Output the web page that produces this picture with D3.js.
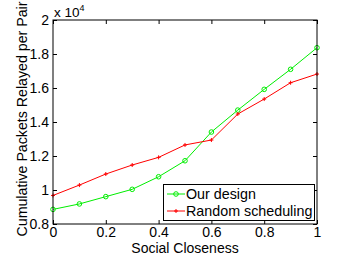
<!DOCTYPE html>
<html><head><meta charset="utf-8">
<script src="https://cdn.jsdelivr.net/npm/d3@7"></script>
<style>body{margin:0;background:#fff}svg{display:block}text{font-family:"Liberation Sans",Arial,sans-serif;fill:#000}</style>
</head><body>
<script>
const closeness = [0,0.1,0.2,0.3,0.4,0.5,0.6,0.7,0.8,0.9,1.0];
const ourDesign = [8860,9180,9610,10040,10780,11720,13410,14700,15920,17100,18370];
const randomSched = [9680,10290,10940,11470,11920,12650,12940,14470,15350,16310,16820];
const xTicks = [0,0.2,0.4,0.6,0.8,1];
const yTicks = [8000,10000,12000,14000,16000,18000,20000];
const yTickLabels = ["0.8","1","1.2","1.4","1.6","1.8","2"];
const seriesNames = ["Our design","Random scheduling"];

const W=341,H=258;
const L=53,R=317,T=20,B=224;
const svg=d3.select("body").append("svg").attr("width",W).attr("height",H);
const x=d3.scaleLinear().domain([0,1]).range([L,R]);
const y=d3.scaleLinear().domain([8000,20000]).range([B,T]);

const tl=4;
svg.append("g").attr("transform",`translate(0,${B})`)
  .call(d3.axisBottom(x).tickValues(xTicks).tickSize(-tl).tickPadding(3).tickFormat(d=>d3.format("")(d)))
  .call(g=>{g.select(".domain").remove();g.selectAll("text").attr("font-size",14).attr("dy","0.71em");});
svg.append("g").attr("transform",`translate(0,${T})`)
  .call(d3.axisTop(x).tickValues(xTicks).tickSize(-tl).tickFormat(""))
  .call(g=>g.select(".domain").remove());
svg.append("g").attr("transform",`translate(${L},0)`)
  .call(d3.axisLeft(y).tickValues(yTicks).tickSize(-tl).tickPadding(4).tickFormat((d,i)=>yTickLabels[i]))
  .call(g=>{g.select(".domain").remove();g.selectAll("text").attr("font-size",14);});
svg.append("g").attr("transform",`translate(${R},0)`)
  .call(d3.axisRight(y).tickValues(yTicks).tickSize(-tl).tickFormat(""))
  .call(g=>g.select(".domain").remove());
svg.selectAll(".tick line").attr("stroke","#000");

const line=d3.line().x((d,i)=>x(closeness[i])).y(d=>y(d));
svg.append("path").datum(ourDesign).attr("d",line).attr("fill","none").attr("stroke","#00ee00").attr("stroke-width",1);
svg.append("path").datum(randomSched).attr("d",line).attr("fill","none").attr("stroke","#ff0000").attr("stroke-width",1);
svg.selectAll(".gm").data(ourDesign).enter().append("circle")
  .attr("cx",(d,i)=>x(closeness[i])).attr("cy",d=>y(d)).attr("r",2.3)
  .attr("fill","none").attr("stroke","#00ee00").attr("stroke-width",1);
svg.selectAll(".rm").data(randomSched).enter().append("path")
  .attr("d",(d,i)=>{const cx=x(closeness[i]),cy=y(d);return `M${cx-2},${cy}H${cx+2}M${cx},${cy-2}V${cy+2}`;})
  .attr("stroke","#ff0000").attr("stroke-width",1);

svg.append("rect").attr("x",L).attr("y",T).attr("width",R-L).attr("height",B-T)
  .attr("fill","none").attr("stroke","#000").attr("stroke-width",1);

const ex=svg.append("text").attr("x",L+1).attr("y",T-3).attr("font-size",13.5);
ex.append("tspan").text("x 10");
ex.append("tspan").attr("font-size",9).attr("dy",-6).text("4");

svg.append("text").attr("x",(L+R)/2).attr("y",253).attr("text-anchor","middle").attr("font-size",14).text("Social Closeness");
svg.append("text").attr("transform",`translate(27,119) rotate(-90)`).attr("text-anchor","middle").attr("font-size",14.2).text("Cumulative Packets Relayed per Pair");

const lg=svg.append("g");
lg.append("rect").attr("x",163.5).attr("y",184.5).attr("width",151).attr("height",36).attr("fill","#fff").attr("stroke","#000").attr("stroke-width",1);
const colors=["#00ee00","#ff0000"];
seriesNames.forEach((n,i)=>{
  const yy=194+i*17;
  lg.append("line").attr("x1",167).attr("x2",185).attr("y1",yy).attr("y2",yy).attr("stroke",colors[i]);
  if(i===0) lg.append("circle").attr("cx",176).attr("cy",yy).attr("r",2.3).attr("fill","none").attr("stroke",colors[i]);
  else lg.append("path").attr("d",`M174,${yy}H178M176,${yy-2}V${yy+2}`).attr("stroke",colors[i]);
  lg.append("text").attr("x",186).attr("y",yy+5).attr("font-size",14.3).text(n);
});
</script>
</body></html>
